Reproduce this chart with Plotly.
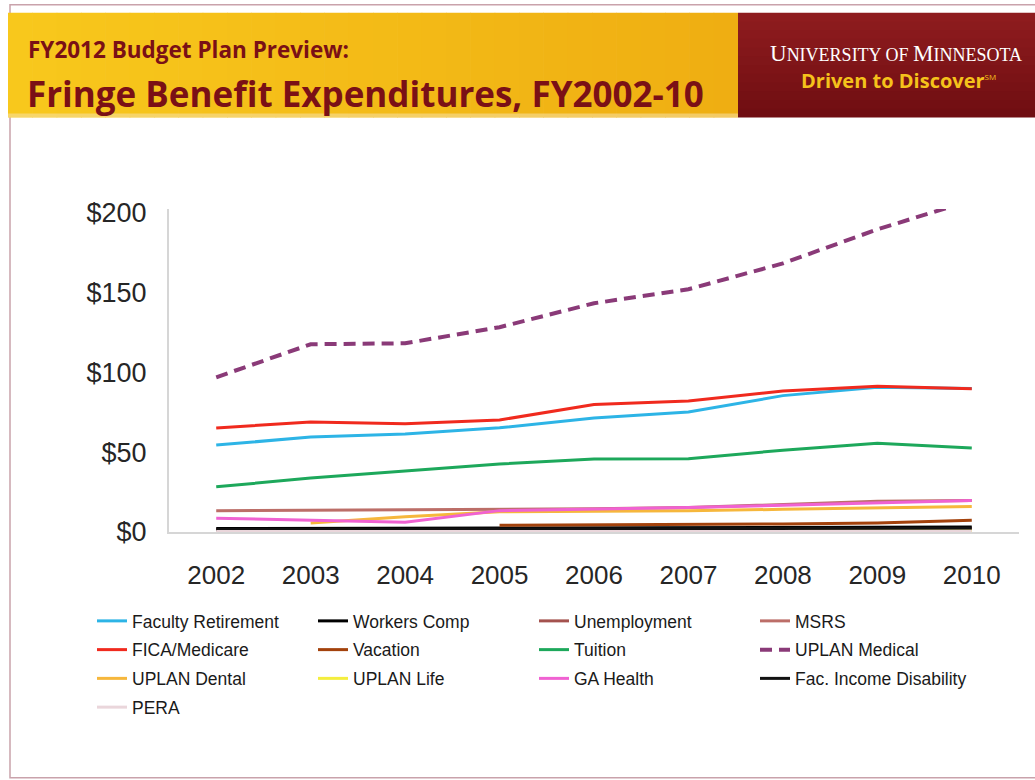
import plotly.graph_objects as go

# ---------------- data ----------------
years = ["2002", "2003", "2004", "2005", "2006", "2007", "2008", "2009", "2010"]

faculty_retirement = [54.5, 59.5, 61.5, 65.3, 71.5, 75.2, 85.5, 90.8, 90.0]
workers_comp = [2.2, 2.3, 2.4, 2.5, 2.6, 2.7, 2.8, 2.9, 3.1]
unemployment = [1.2, 1.4, 1.5, 1.3, 1.2, 1.3, 1.4, 1.8, 2.2]
msrs = [13.4, 13.6, 13.8, 14.0, 14.5, 15.3, 17.3, 19.2, 19.8]
fica_medicare = [65.2, 69.0, 67.8, 70.2, 80.0, 82.2, 88.4, 91.4, 89.8]
vacation = [None, None, None, 4.2, 4.4, 4.7, 5.0, 5.7, 7.3]
tuition = [28.3, 33.8, 38.2, 42.6, 45.8, 45.9, 51.3, 55.7, 52.7]
uplan_medical = [97.0, 117.7, 118.3, 128.4, 143.4, 152.2, 168.4, 189.7, 208.0]
uplan_dental = [None, 5.6, 9.6, 12.7, 13.0, 13.4, 14.2, 15.0, 16.0]
uplan_life = [None, 0.5, 0.6, 0.6, 0.7, 0.7, 0.8, 0.8, 0.9]
ga_health = [8.6, 7.5, 6.1, 13.4, 14.3, 15.3, 16.8, 18.2, 19.8]
fac_income_disability = [1.6, 1.7, 1.7, 1.8, 1.9, 2.0, 2.1, 2.2, 2.4]
pera = [0.3, 0.3, 0.3, 0.3, 0.4, 0.4, 0.4, 0.4, 0.4]

y_tick_vals = [0, 50, 100, 150, 200]
y_tick_text = ["$0", "$50", "$100", "$150", "$200"]

series = [
    ("Faculty Retirement", faculty_retirement, "#2DB4E6", "solid", 3),
    ("Workers Comp", workers_comp, "#000000", "solid", 3),
    ("Unemployment", unemployment, "#A4524E", "solid", 3),
    ("MSRS", msrs, "#BC6E68", "solid", 3),
    ("FICA/Medicare", fica_medicare, "#F02A1E", "solid", 3),
    ("Vacation", vacation, "#A3420C", "solid", 3),
    ("Tuition", tuition, "#1DA85B", "solid", 3),
    ("UPLAN Medical", uplan_medical, "#8A3A78", "12px,7px", 4),
    ("UPLAN Dental", uplan_dental, "#F6B73C", "solid", 3),
    ("UPLAN Life", uplan_life, "#F4EE3E", "solid", 3),
    ("GA Health", ga_health, "#F062D2", "solid", 3),
    ("Fac. Income Disability", fac_income_disability, "#111111", "solid", 3),
    ("PERA", pera, "#EAD6DB", "solid", 3),
]

# ---------------- layout geometry (pixels) ----------------
W, H = 1035, 780
PL, PR = 169, 1019          # plot area left/right
PT, PB = 208.6, 532         # plot area top/bottom


def px(X):
    return (X - PL) / (PR - PL)


def py(Y):
    return (PB - Y) / (PB - PT)


fig = go.Figure()

legend_names = ["legend", "legend2", "legend3", "legend4"]   # one legend per column
for i, (name, vals, color, dash, width) in enumerate(series):
    fig.add_trace(go.Scatter(
        x=years, y=vals, name=name, mode="lines",
        line=dict(color=color, width=width, dash=dash),
        connectgaps=False,
        legend=legend_names[i % 4],
        legendgroup=name,
    ))

shapes = []
# slide frame
shapes.append(dict(type="rect", xref="paper", yref="paper",
                   x0=px(10), x1=px(1045), y0=py(4), y1=py(778),
                   line=dict(color="#C9A2AB", width=1.5), fillcolor="rgba(0,0,0,0)", layer="below"))
# gold banner gradient
n = 30
c0 = (248, 200, 28)
c1 = (239, 174, 18)
gx0, gx1 = 8, 738
for k in range(n):
    t = k / (n - 1)
    col = tuple(int(round(c0[j] + (c1[j] - c0[j]) * t)) for j in range(3))
    xa = gx0 + (gx1 - gx0) * k / n
    xb = gx0 + (gx1 - gx0) * (k + 1) / n + 0.6
    shapes.append(dict(type="rect", xref="paper", yref="paper",
                       x0=px(xa), x1=px(min(xb, gx1)), y0=py(12), y1=py(117),
                       line=dict(width=0), fillcolor="rgb(%d,%d,%d)" % col, layer="below"))
# soft lighter bottom edge of the gold banner
shapes.append(dict(type="rect", xref="paper", yref="paper",
                   x0=px(gx0), x1=px(gx1), y0=py(117), y1=py(113),
                   line=dict(width=0), fillcolor="rgba(245,225,170,0.55)", layer="below"))
# maroon box gradient
m0 = (142, 28, 30)
m1 = (112, 14, 18)
nm = 12
for k in range(nm):
    t = k / (nm - 1)
    col = tuple(int(round(m0[j] + (m1[j] - m0[j]) * t)) for j in range(3))
    ya = 12 + 105 * k / nm
    yb = 12 + 105 * (k + 1) / nm + 0.6
    shapes.append(dict(type="rect", xref="paper", yref="paper",
                       x0=px(738), x1=px(1040), y0=py(ya), y1=py(min(yb, 117)),
                       line=dict(width=0), fillcolor="rgb(%d,%d,%d)" % col, layer="below"))

annotations = [
    dict(text="<b>FY2012 Budget Plan Preview:</b>", xref="paper", yref="paper",
         x=px(26), y=py(48.5), xanchor="left", yanchor="middle", showarrow=False,
         font=dict(family="Open Sans, sans-serif", size=22.5, color="#7A1016")),
    dict(text="<b>Fringe Benefit Expenditures, FY2002-10</b>", xref="paper", yref="paper",
         x=px(25), y=py(93), xanchor="left", yanchor="middle", showarrow=False,
         font=dict(family="Open Sans, sans-serif", size=35, color="#7A1016")),
    dict(text='U<span style="font-size:18px">NIVERSITY OF </span>M<span style="font-size:18px">INNESOTA</span>',
         xref="paper", yref="paper",
         x=px(896), y=py(53), xanchor="center", yanchor="middle", showarrow=False,
         font=dict(family="Liberation Serif, DejaVu Serif, serif", size=23, color="#FFFFFF")),
    dict(text='<b>Driven to Discover</b><sup><span style="font-size:8px">SM</span></sup>',
         xref="paper", yref="paper",
         x=px(898), y=py(80), xanchor="center", yanchor="middle", showarrow=False,
         font=dict(family="Open Sans, sans-serif", size=20, color="#F5C21B")),
]

col_x = [92, 313, 534, 755]
legend_top = 603
layout_legends = {}
for i, ln in enumerate(legend_names):
    layout_legends[ln] = dict(
        orientation="v", xref="container", yref="container",
        x=col_x[i] / W, y=1 - legend_top / H,
        xanchor="left", yanchor="top",
        font=dict(family="Liberation Sans, Arial, sans-serif", size=17.5, color="#1A1A1A"),
        bgcolor="rgba(0,0,0,0)", itemwidth=30,
        tracegroupgap=3, traceorder="grouped",
    )

fig.update_layout(
    width=W, height=H,
    margin=dict(l=PL, r=W - PR, t=PT, b=H - PB, pad=0, autoexpand=False),
    paper_bgcolor="#FFFFFF", plot_bgcolor="#FFFFFF",
    showlegend=True,
    shapes=shapes, annotations=annotations,
    xaxis=dict(type="category", range=[-0.5, 8.5], showgrid=False, zeroline=False,
               showline=True, linecolor="#D6D6D6", linewidth=2, ticks="",
               ticklabelstandoff=19,
               tickfont=dict(family="Liberation Sans, Arial, sans-serif", size=26, color="#262626")),
    yaxis=dict(range=[0, 202.5], showgrid=False, zeroline=False,
               showline=True, linecolor="#D6D6D6", linewidth=2, ticks="",
               tickvals=y_tick_vals, ticktext=y_tick_text, ticklabelstandoff=15,
               tickfont=dict(family="Liberation Sans, Arial, sans-serif", size=27, color="#262626")),
    **layout_legends,
)

fig.write_html("out.html")
